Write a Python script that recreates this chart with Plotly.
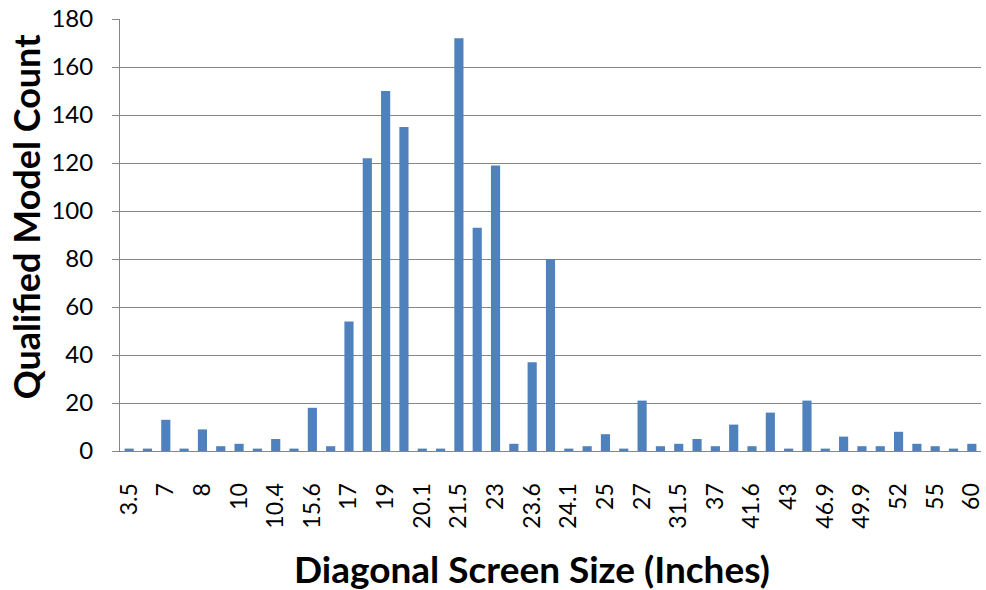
import plotly.graph_objects as go

sizes = ["3.5", "5.6", "7", "7.5", "8", "8.9", "10", "10.1", "10.4", "12.1",
         "15.6", "15.8", "17", "18.5", "19", "20", "20.1", "21.3", "21.5", "22",
         "23", "23.5", "23.6", "24", "24.1", "24.6", "25", "26", "27", "30",
         "31.5", "32", "37", "40", "41.6", "42", "43", "46", "46.9", "47",
         "49.9", "50", "52", "54.6", "55", "57", "60"]
counts = [1, 1, 13, 1, 9, 2, 3, 1, 5, 1,
          18, 2, 54, 122, 150, 135, 1, 1, 172, 93,
          119, 3, 37, 80, 1, 2, 7, 1, 21, 2,
          3, 5, 2, 11, 2, 16, 1, 21, 1, 6,
          2, 2, 8, 3, 2, 1, 3]
shown_labels = sizes[::2]
y_ticks = list(range(0, 181, 20))

FONT = "Lato"
L, R, T, B = 120, 2, 19, 139
PW, PH = 986 - L - R, 590 - T - B

fig = go.Figure(go.Bar(x=sizes, y=counts, marker=dict(color="#4F81BD", line=dict(width=0))))

fig.update_layout(
    width=986, height=590,
    margin=dict(l=L, r=R, t=T, b=B),
    paper_bgcolor="white", plot_bgcolor="white",
    bargap=0.5,
    showlegend=False,
    font=dict(family=FONT, color="black"),
)
fig.update_xaxes(
    type="category",
    tickmode="array", tickvals=shown_labels, ticktext=shown_labels,
    tickangle=-90, tickfont=dict(size=23, family=FONT, color="black"),
    showline=True, linecolor="#868686", linewidth=1,
    showgrid=False, ticks="", ticklabelstandoff=22,
)
fig.update_yaxes(
    range=[0, 180], tickmode="array", tickvals=y_ticks,
    tickfont=dict(size=24, family=FONT, color="black"),
    showgrid=True, gridcolor="#868686", gridwidth=1,
    showline=True, linecolor="#868686", linewidth=1,
    ticks="outside", ticklen=7, tickcolor="#868686",
    ticklabelstandoff=14, zeroline=False,
)
fig.add_annotation(text="<b>Diagonal Screen Size (Inches)</b>", xref="paper", yref="paper",
                   x=(533 - L) / PW, y=-(568 - (590 - B)) / PH,
                   showarrow=False, font=dict(size=37, family=FONT, color="black"),
                   xanchor="center", yanchor="middle")
fig.add_annotation(text="<b>Qualified Model Count</b>", xref="paper", yref="paper",
                   x=-(L - 26) / PW, y=((590 - B) - 216) / PH,
                   showarrow=False, textangle=-90,
                   font=dict(size=36, family=FONT, color="black"),
                   xanchor="center", yanchor="middle")

fig.write_html("out.html")
